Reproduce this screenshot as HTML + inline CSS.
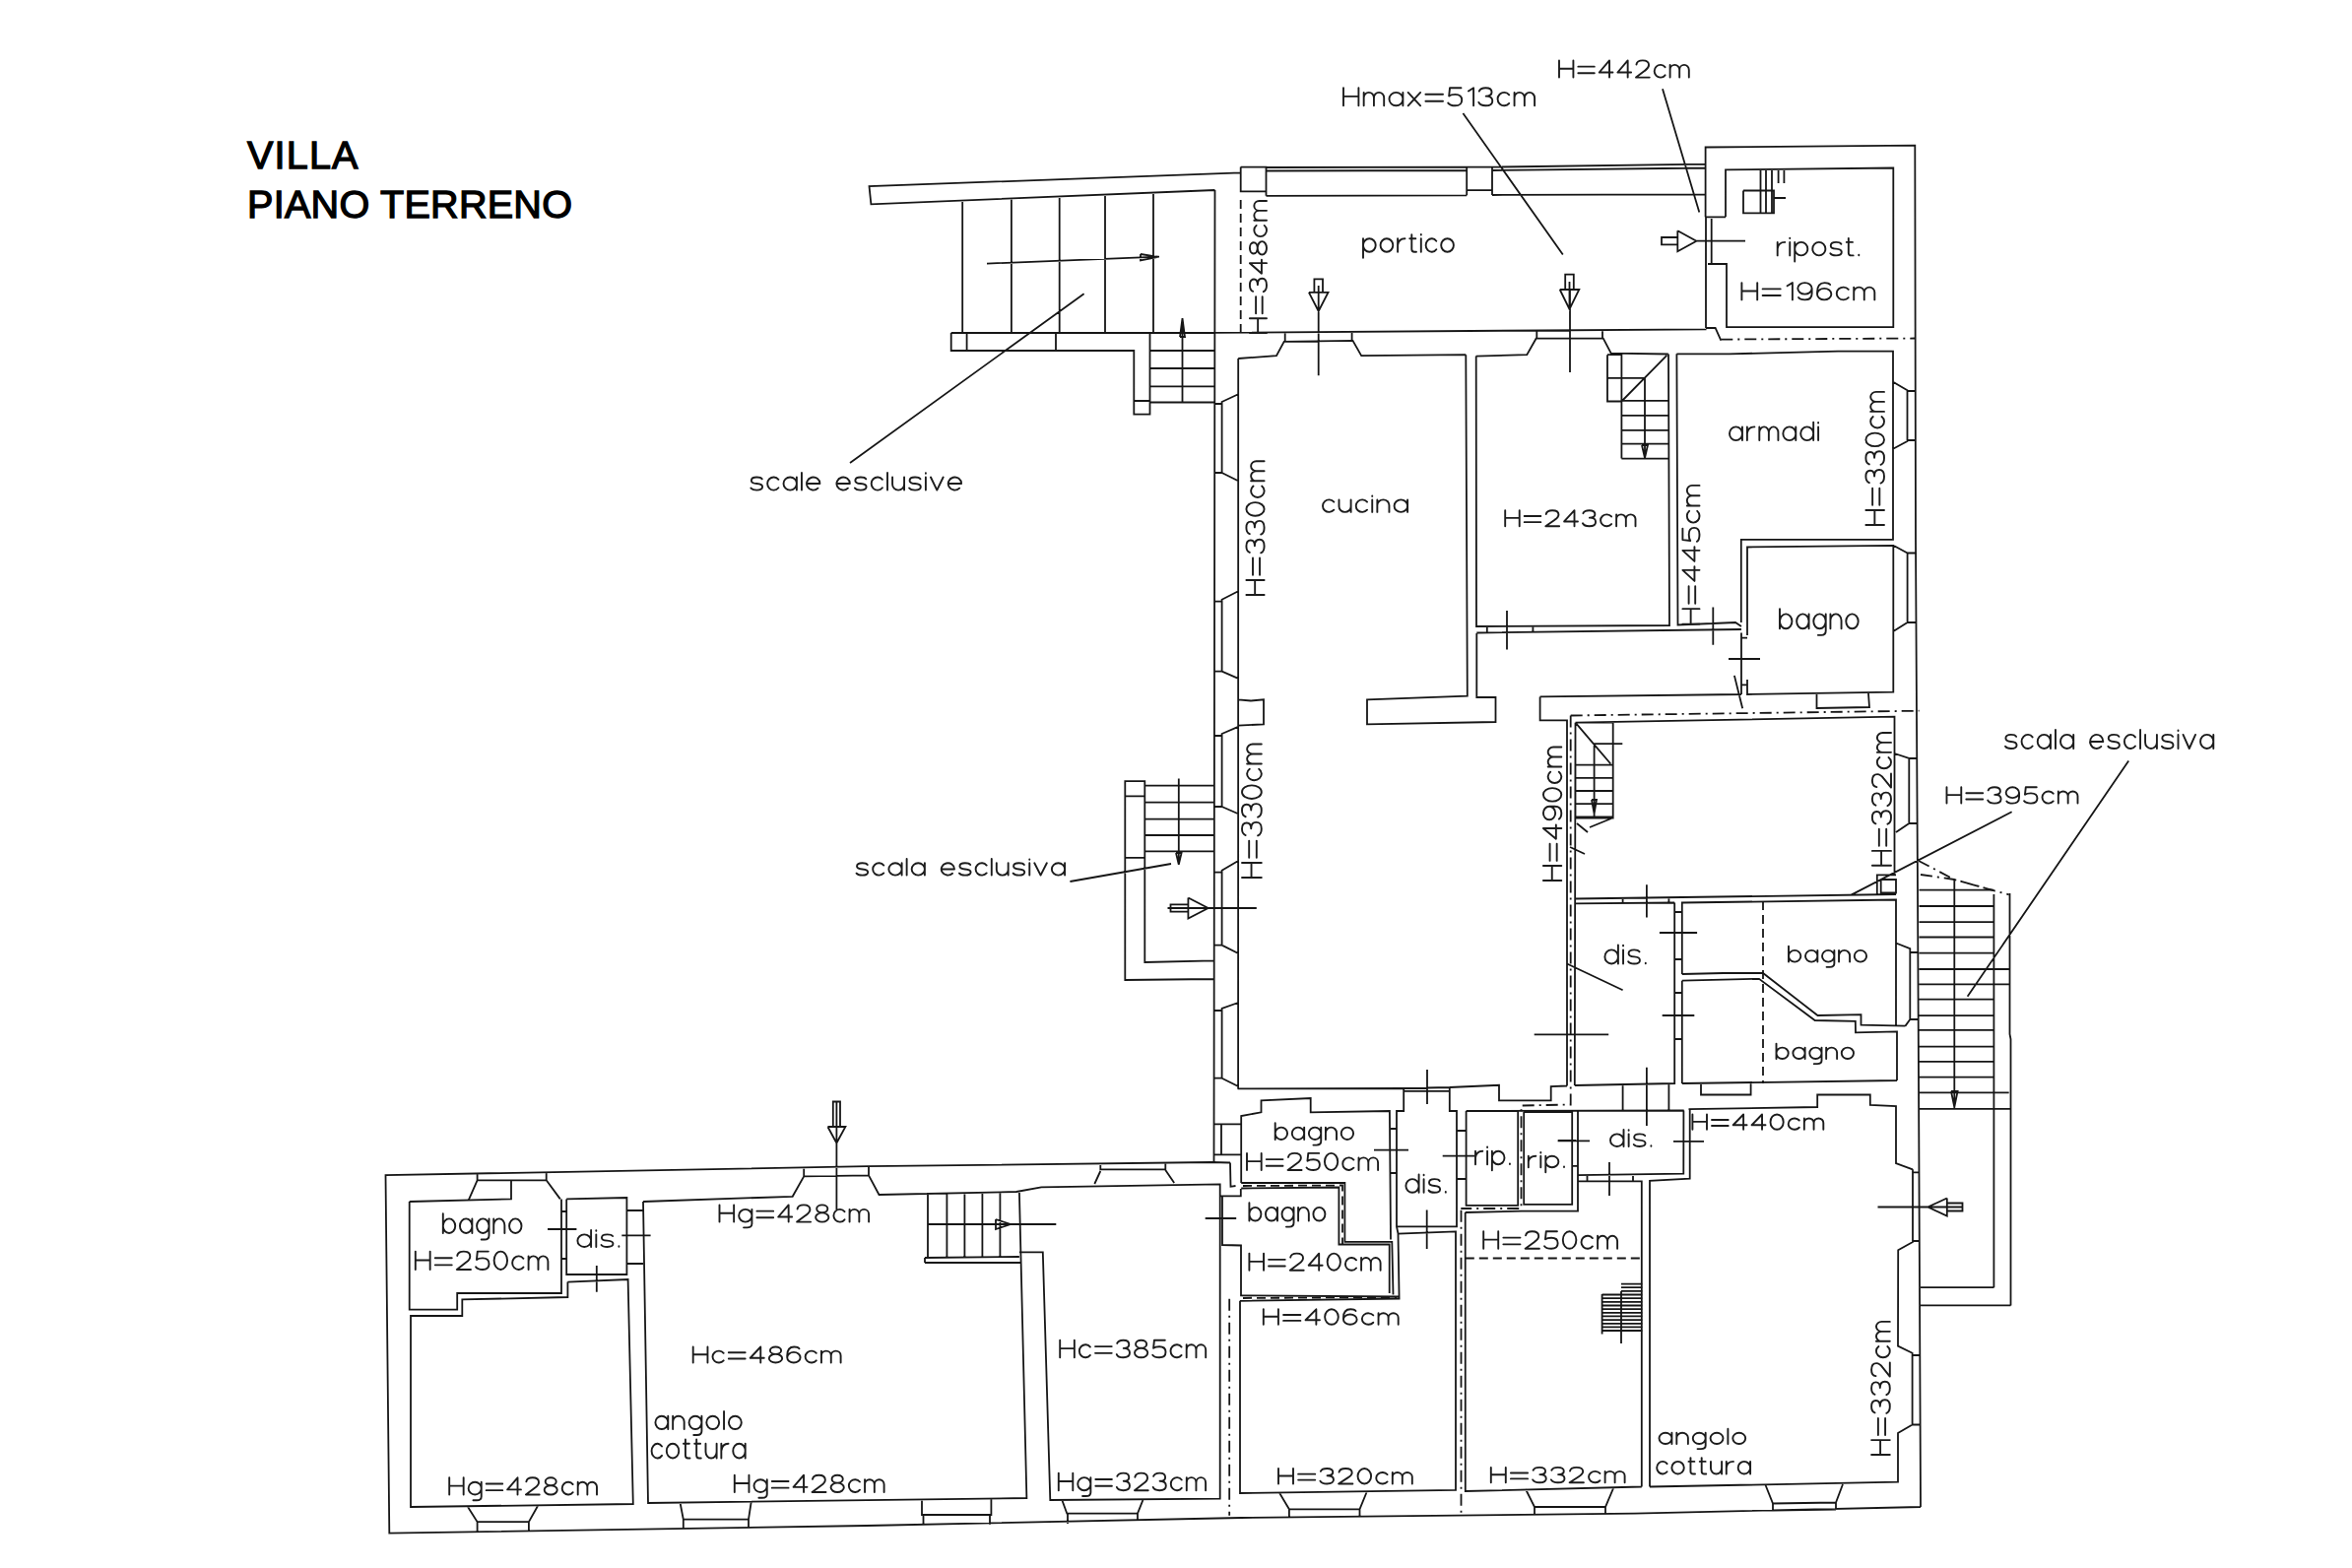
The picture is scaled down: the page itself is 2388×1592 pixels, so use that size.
<!DOCTYPE html><html><head><meta charset="utf-8"><style>html,body{margin:0;padding:0;background:#fff;}svg{display:block}</style></head><body>
<svg width="2388" height="1592" viewBox="0 0 2388 1592">
<rect width="2388" height="1592" fill="#fff"/>
<g fill="none" stroke="#161616" stroke-width="1.8" stroke-linejoin="miter" stroke-linecap="butt">
<path d="M1259.7 175.3 L882.5 189.2 L884.4 207.4 L1233.5 193 M977.2 203.6 L977.2 337.5 M1026.9 201.5 L1026.9 337.5 M1075.7 199.5 L1075.7 337.5 M1122 197.6 L1122 337.5 M1171 195.6 L1171 337.5 M1233.5 193 L1232.5 1180.7 M965.7 338 L1233 338 M965.7 338 L981.6 338 L981.6 356 L965.7 356 L965.7 338 M981.6 356 L1151.3 356 L1151.3 420.7 L1167.5 420.7 L1167.5 338 M1151.3 407 L1167.5 407 M1072 338 L1072 356 M1167.5 356 L1233 356 M1167.5 374 L1233 374 M1167.5 392.3 L1233 392.3 M1167.5 408.5 L1233 408.5 M1200.5 323 L1200.5 408.5 M1198 342 L1200.5 323 L1203 342 L1198 342 M1002 267.6 L1177 260.6 M1158 258 L1176 260.8 L1158 264.5 L1158 258 M1100.6 298.3 L863 470 M1259.7 169.6 L1285.5 169.6 L1285.5 194.4 L1259.7 194.4 L1259.7 169.6 M1285.5 170 L1489.2 169.6 M1285.5 173.5 L1489.2 173 M1285.5 198.8 L1489.2 198.3 M1285.5 169.6 L1285.5 198.8 M1489.2 169.6 L1515 169.6 L1515 193.1 L1489.2 193.1 L1489.2 169.6 M1489.2 169.6 L1489.2 198.3 M1515 169.6 L1515 198 M1515 169.6 L1731.6 166.7 M1515 173 L1731.6 170.5 M1515 198 L1731.6 197.3 M1233 337.8 L1732.5 334.3 M1257.2 364 L1296 361.1 L1303.7 346.8 L1373.5 345.8 L1382.2 361.1 L1488.3 360.2 M1304.7 337.5 L1304.7 346.5 M1372.6 337 L1372.6 346 M1498.7 361.6 L1550.3 360.2 L1559.6 343.7 L1627.8 343.7 L1635.7 358.7 L1693.8 359.5 M1560.3 335.5 L1560.3 343.7 M1627 335 L1627 343.7 M1338.7 296.8 L1338.7 381.2 M1594 294 L1594 378 M1334.4 296.8 L1334.4 283.4 L1343 283.4 L1343 296.8 M1328.9 296.8 L1348.5 296.8 L1338.7 316 L1328.9 296.8 M1338.7 290 L1338.7 316 M1589.2 294 L1589.2 278.6 L1597.8 278.6 L1597.8 294 M1583.7 294 L1603.3 294 L1593.5 314 L1583.7 294 M1593.5 286 L1593.5 314 M1485.4 115 L1586.8 258.5 M1688 90.2 L1725.3 215.5 M1731.6 220.3 L1731.6 149.5 L1944.3 147.6 L1945 548 L1947 903 L1948.3 1155.7 L1950 1530 M1752 220.3 L1752 172.4 L1922.3 170.5 L1922.3 332.2 L1753 332.2 L1753 268 L1734 268 M1731.6 220.3 L1752 220.3 M1732 220.3 L1732 333 M1737.7 222 L1737.7 268 M1732 333 L1741.6 333 L1747.3 345.6 M1770 193.5 L1801 193.5 L1801 216.4 L1770 216.4 L1770 193.5 M1787.5 171.5 L1787.5 215.5 M1793 171.5 L1793 215.5 M1799 171.5 L1799 215.5 M1805.6 171.5 L1805.6 186 M1811.4 171.5 L1811.4 186 M1801 201 L1813 201 M1703.3 241 L1687 241 L1687 248.4 L1703.3 248.4 M1703.3 234.2 L1703.3 255.2 L1722.4 244.7 L1703.3 234.2 M1722.4 244.7 L1772 244.7 M1257.2 364 L1257.1 1105.4 M1257.2 400.3 L1240.6 408 L1240.6 480 L1257.2 488.3 M1232.5 410 L1240.6 410 M1232.5 480 L1240.6 480 M1257.2 600.3 L1240.6 608.7 L1240.6 681.6 L1257.2 688.8 M1232.5 610.7 L1240.6 610.7 M1232.5 681.6 L1240.6 681.6 M1257.2 737.8 L1240.6 745 L1240.6 819 L1257.2 826.3 M1232.5 747 L1240.6 747 M1232.5 819 L1240.6 819 M1257.2 874 L1240.6 883.7 L1240.6 959.6 L1257.2 968 M1232.5 885.7 L1240.6 885.7 M1232.5 959.6 L1240.6 959.6 M1257.2 1018 L1240.6 1024 L1240.6 1094.7 L1257.2 1103 M1232.5 1026 L1240.6 1026 M1232.5 1094.7 L1240.6 1094.7 M1257.1 710.3 L1270 711.5 L1283 710.3 L1283 735.4 L1257.1 736.6 M1256.6 1105.4 L1425.2 1105 L1471.8 1104 L1522 1101.8 L1522 1117.4 L1574.7 1117.4 L1574.7 1103 L1591 1102.5 M1488.3 360.2 L1489.8 706.7 L1388 710.3 L1388 735.4 L1518.5 733 L1518.5 708 L1499.3 708 L1499.3 643 M1498.7 361.6 L1499 636 L1695 635 L1694 359.5 M1499.3 642.5 L1768 639 M1509.8 636 L1509.8 643 M1556.4 636 L1556.4 643 M1530 620 L1530 659.6 M1632 360.2 L1646.4 360.2 L1646.4 407.5 L1632 407.5 L1632 360.2 M1632 383.8 L1669.4 383.8 M1646.4 407.5 L1692.3 360.9 M1646.4 360.2 L1646.4 465.6 M1670 384 L1670 465.6 M1646.4 406.8 L1693.8 406.8 M1646.4 421.9 L1693.8 421.9 M1646.4 436.9 L1693.8 436.9 M1646.4 450.6 L1693.8 450.6 M1646.4 465.6 L1693.8 465.6 M1667 452 L1670 465 L1673 452 L1667 452 M1702.4 359.3 L1755.8 359.3 L1866 356.7 L1922 356.7 L1922 547.8 L1767.8 547.8 L1767.8 632 M1702.4 359.3 L1703.5 634.5 L1762 632 L1768 636 M1922 387.7 L1936.5 396.3 L1936.5 448 L1922 455.7 M1936.5 397 L1944.5 397 M1936.5 447 L1944.5 447 M1739.3 616.5 L1739.3 654.8 M1768 642.5 L1768 705 M1774 645 L1774 555.5 L1922.3 553.8 L1922.3 702.6 L1774 705 L1774 690 M1768 647.6 L1774 647.6 M1768 695.4 L1774 695.4 M1922.3 553.8 L1936.6 561.5 L1936.6 632 L1922.3 641 M1936.6 561.5 L1945 561.5 M1936.6 632 L1945 632 M1755 669 L1787 669 M1760.9 685.9 L1769.2 719.3 M1844.5 705 L1844.5 719 L1898 718 L1897 704 M1563.6 707.4 L1768 705 M1563.6 707.4 L1563.6 731.3 L1591 731.3 L1591 1102.5 M1599.5 733.7 L1923.5 727.7 L1923.5 889 M1599.5 733.7 L1598.8 1102 M1923.5 765 L1938.3 770 L1938.3 836 L1925 845 M1938.3 770 L1947 770 M1938.3 836 L1947 836 M1909.7 893 L1925 893 L1925 906.5 L1909.7 906.5 L1909.7 893 M1905.8 908.4 L1905.8 888.3 L1925 888.3 M1598.8 912.5 L1925 908 M1598.8 917.3 L1700.2 916.5 M1647.6 912.5 L1647.6 917.3 M1694.4 912.5 L1694.4 917.3 M1671.9 898.2 L1671.9 931.6 M1599.5 733.7 L1637.7 733.7 L1637.7 830.5 L1599.5 830.5 L1599.5 733.7 M1599.5 733.7 L1635.3 775.5 M1618.6 755 L1618.6 830.5 M1599.5 776.7 L1637.7 776.7 M1599.5 789.9 L1637.7 789.9 M1599.5 803 L1637.7 803 M1599.5 816.2 L1637.7 816.2 M1599.5 829.3 L1637.7 829.3 M1618.6 755.2 L1647.3 755.2 M1616 812 L1618.6 826 L1621 812 L1616 812 M1601 836 L1612 845 M1614 840 L1636 831 M1594 860 L1609 867 M2042.6 824.3 L1880 908.4 M1598.8 1102 L1700.2 1100 L1700.2 916.5 M1707.8 989 L1707.8 916.5 L1925 913.5 L1925 1040.7 M1707.8 995.7 L1707.8 1100 M1700.2 926 L1707.8 926 M1700.2 974 L1707.8 974 M1700.2 1008 L1707.8 1008 M1700.2 1055 L1707.8 1055 M1707.8 989 L1749.9 988 L1790 988 L1845.5 1031 L1889.5 1030.2 L1889.5 1040.7 L1934.5 1041.6 M1707.8 995.7 L1786 993.8 L1842.7 1036 L1883.8 1036.9 L1884 1048.3 L1926 1047.4 L1926 1097 M1707.8 1100 L1926 1097 M1727 1100 L1727 1111.5 L1777.6 1111.5 L1777.6 1099 M1925 957.5 L1939.3 963.2 L1939.3 1035 L1934.5 1041.6 M1939.3 967 L1947 967 M1939.3 1035 L1947 1035 M1591 978.5 L1647.6 1005.3 M1684.9 947 L1723.1 947 M1687.7 1031 L1720.3 1031 M1557.7 1050.3 L1633.2 1050.3 M1671.9 1083.7 L1671.9 1143 M1647.6 1102 L1647.6 1127 M1694.4 1101 L1694.4 1127 M1488.6 1128 L1709.7 1127.5 M1714.5 1126.2 L1845.2 1124 L1845.2 1111.5 L1898.8 1111.5 L1898.8 1122 L1925 1123 L1925 1181 L1942 1187.3 M1425.2 1105 L1425.2 1128 L1418 1128 L1418 1245.3 L1479 1245.3 L1479 1128 L1471.8 1128 L1471.8 1104 M1260.2 1201 L1260.2 1133 L1280.5 1129.3 L1280.5 1117.4 L1330.7 1115 L1330.7 1129.3 L1410.9 1128 L1412 1258.5 M1412 1146 L1418 1146 M1412 1191 L1418 1191 M1488.6 1128 L1541.2 1128 L1541.2 1223.8 L1488.6 1223.8 L1488.6 1128 M1547.2 1129 L1596.2 1129 L1596.2 1222.8 L1547.2 1222.8 L1547.2 1129 M1479 1148 L1488.6 1148 M1479 1197 L1488.2 1197 M1596 1183.8 L1602 1183.8 M1395 1167.6 L1430 1167.6 M1448.7 1228.6 L1448.7 1268 M1449 1086 L1449 1121 M1464.7 1173.6 L1497 1173.6 M1581.8 1158 L1600 1158 M1602 1127.5 L1602 1229.7 L1545 1229.7 L1487.7 1231 M1602 1193.2 L1709.3 1191.6 L1709.4 1127.5 M1715.7 1126.2 L1715.7 1196.7 L1675 1198.8 L1675 1509.5 M1602 1199.3 L1666.8 1199.3 L1666.8 1509.5 M1611.5 1193 L1611.5 1199.3 M1658 1192.5 L1658 1199.3 M1581.6 1158.3 L1614 1158.3 M1699 1158.9 L1730 1158.9 M1634 1180 L1634 1214 M1942 1187.3 L1942 1261 L1927.2 1269.3 L1927 1366.6 L1941.6 1373.8 L1941.6 1446.5 L1927 1455 L1927 1504.7 L1675 1509.5 M1942 1190.4 L1948.3 1190.4 M1942 1260 L1949 1260 M1941.6 1376 L1950 1376 M1941.6 1446.5 L1950 1446.5 M1792.6 1508 L1800 1526.5 L1864 1525.5 L1871 1507 M1800 1533.5 L1864 1532.5 M1800 1526.5 L1800 1534 M1864 1525.5 L1864 1533 M1976.8 1221.5 L1992.5 1221.5 L1992.5 1229.5 L1976.8 1229.5 M1976.8 1216.5 L1976.8 1234.5 L1957.4 1225.5 L1976.8 1216.5 M1906.5 1225.5 L1993 1225.5 M1950 1530 L1660 1536.6 L1260 1541 L880 1549 L395.3 1556.7 L391.5 1193.2 L880 1184.2 L1229.7 1180 L1249 1180.5 M1948.5 903.6 L2024.4 903.6 M1948.5 920 L2024.4 920 M1948.5 936.2 L2024.4 936.2 M1948.5 951.5 L2024.4 951.5 M1948.5 967.7 L2024.4 967.7 M1948.5 984 L2039.7 984 M1948.5 999.3 L2039.7 999.3 M1948.5 1014.6 L2024.4 1014.6 M1948.5 1031.1 L2024.4 1031.1 M1948.5 1045.9 L2024.4 1045.9 M1948.5 1062.7 L2024.4 1062.7 M1948.5 1077.9 L2024.4 1077.9 M1948.5 1093.6 L2024.4 1093.6 M1948.5 1109.4 L2039.7 1109.4 M1984.3 893 L1984.3 1125.8 M1981 1108 L1984.3 1124 L1987.6 1108 L1981 1108 M2024.4 908 L2024.4 1307.2 M2040.5 907 L2040.5 1050 L2041.5 1055 L2041.5 1325.4 M1949 1125.8 L2041.5 1125.8 M1950 1307.2 L2024.4 1307.2 M1950 1325.4 L2041.5 1325.4 M2161.2 772.6 L1997.6 1011.7 M484.6 1191.5 L484.6 1198.3 L554.7 1198.3 L554.7 1191 M484.6 1198.3 L475.7 1218.7 M554.7 1198.3 L568.8 1217.4 M415.7 1220 L519 1217.4 L519 1198.3 M570 1217.4 L570 1313 L464.2 1313 L464.2 1329.6 L415.7 1329.6 L415.7 1220 M576.4 1301.6 L576.4 1317 L469.3 1319.4 L469.3 1336 L417 1336 L417 1530 L642.8 1527 L637.6 1299 L576.4 1301.6 M575.2 1217.4 L636.4 1216 L636.4 1294 L575.2 1294 L575.2 1217.4 M570 1230 L575.2 1230 M570 1278 L575.2 1278 M636.4 1229 L653 1229 M636.4 1283 L653 1283 M653 1220 L658 1526 L1042.4 1521 L1034.9 1210 L1031.9 1210 L892.5 1213 L882 1193.4 L816.2 1194.4 L804.7 1214.8 L653 1220 M816.2 1186.8 L816.2 1194.4 M882 1185 L882 1193.4 M1031.9 1210 L1057.3 1205.4 L1238.7 1202.4 L1238.7 1521.7 L1066.3 1523 L1058.8 1271.4 L1034.9 1271.4 M942 1211 L942 1276 M961.4 1211 L961.4 1276 M979.4 1211 L979.4 1276 M997.4 1211 L997.4 1276 M1015.4 1211 L1015.4 1276 M942 1243 L1072.3 1243 M1011 1238 L1026 1243 L1011 1248 L1011 1238 M939 1277 L1034.9 1276 M939 1282 L1036 1282 M939 1277 L939 1282 M475 1530 L484.6 1545.2 L536.9 1545.2 L546 1529 M484.6 1545.2 L484.6 1555 M536.9 1545.2 L536.9 1554 M690.5 1525.5 L693.8 1542.6 L760 1542.6 L762.7 1524.8 M693.8 1542.6 L693.8 1552 M760 1542.6 L760 1551 M936 1521.7 L936 1538 L1006.4 1538 L1006.4 1521.7 M937.5 1538 L937.5 1549 M1005 1538 L1005 1548 M1078.3 1523 L1083.3 1536.7 L1155 1536.7 L1160.8 1522 M1084 1536.7 L1084 1547 M1155 1536.7 L1155 1545 M1117.3 1181.5 L1117.3 1187.4 L1183.3 1187.4 L1183.3 1180.8 M1111.3 1202 L1117.3 1189 M1192.2 1201 L1183.3 1188 M556 1248 L585.4 1248 M631.3 1254.4 L660.6 1254.4 M605.8 1285 L605.8 1311.8 M849.4 1160.5 L849.4 1228 M845.8 1144 L845.8 1118.5 L853 1118.5 L853 1144 M840.4 1144 L858.4 1144 L849.4 1160.5 L840.4 1144 M849.4 1118.5 L849.4 1160.5 M1223.7 1237 L1255.2 1237 M1232.2 1141.3 L1260.2 1141.3 M1232.2 1172.4 L1260.2 1172.4 M1240 1141.3 L1240 1172.4 M1249 1180.5 L1249.5 1204.8 L1254.5 1204 M1241 1214 L1241 1264 L1260 1264.5 L1260 1315.4 L1420.6 1316.5 M1238.7 1214.4 L1259.8 1214.4 L1259.8 1207 M1260.2 1201 L1365.4 1201 L1365.4 1260.9 L1413.3 1260.9 L1414.5 1314.6 M1260.2 1206.5 L1359.4 1205.5 L1359.4 1263.5 L1410.7 1263.5 L1410.7 1313 M1259 1320.8 L1420.6 1318.5 L1419.5 1252.5 L1478 1250.4 L1478 1512.8 L1259 1516 L1259 1320.8 M1299.2 1516 L1308.9 1532.3 L1380.5 1532.3 L1388 1514 M1308.9 1532.3 L1308.9 1541 M1380.5 1532.3 L1380.5 1540 M1419.5 1252.5 L1418 1245.3 M1487.7 1231 L1487.8 1514 L1666.8 1509.5 M1426 1107.8 L1471.5 1107.8 M1646 1303.6 L1667.8 1303.6 M1646 1307.2 L1667.8 1307.2 M1646 1310.9 L1667.8 1310.9 M1626.6 1314.5 L1667.8 1314.5 M1626.6 1318.2 L1667.8 1318.2 M1626.6 1321.8 L1667.8 1321.8 M1626.6 1325.5 L1667.8 1325.5 M1626.6 1329.1 L1667.8 1329.1 M1626.6 1332.8 L1667.8 1332.8 M1626.6 1336.4 L1667.8 1336.4 M1626.6 1340.1 L1667.8 1340.1 M1626.6 1343.8 L1667.8 1343.8 M1626.6 1347.4 L1667.8 1347.4 M1626.6 1351 L1667.8 1351 M1626.6 1314 L1626.6 1354.5 M1646 1311 L1646 1364 M1549 1512 L1558 1530 L1630 1530 L1638.5 1510 M1558 1530 L1558 1538 M1630 1530 L1630 1537.7 M1232.2 975.4 L1162.3 977 L1162.3 793.2 L1142.3 793.2 L1142.3 995 L1232 994 M1142.3 808.4 L1162.3 808.4 M1142.3 870.9 L1162.3 870.9 M1162.3 797.7 L1232.2 797.7 M1162.3 814.6 L1232.2 814.6 M1162.3 831.6 L1232.2 831.6 M1162.3 848 L1232.2 848 M1162.3 864.3 L1232.2 864.3 M1196.8 790.4 L1196.8 877.7 M1194 866 L1196.8 877.7 L1199.6 866 L1194 866 M1086.4 895 L1189 877 M1206.4 918.3 L1188.5 918.3 L1188.5 925.7 L1206.4 925.7 M1206.4 911.5 L1206.4 932.5 L1226.7 922 L1206.4 911.5 M1185.5 922 L1275.8 922"/>
</g>
<g fill="none" stroke="#161616" stroke-width="1.8" stroke-dasharray="9 5">
<path d="M1259.7 203 L1259.7 337 M1790 915 L1790 1100 M1262 1204 L1363 1203.5 L1363 1263 M1262 1318 L1418 1317 M1487.8 1277.5 L1667.8 1277.5"/>
</g>
<g fill="none" stroke="#161616" stroke-width="1.8" stroke-dasharray="12 5 2 5">
<path d="M1747.3 344.6 L1944.3 343.5 M1594.7 726.5 L1948.6 721.7 M1594.7 726.5 L1594.7 1121.5 L1544.5 1122.5 L1544.5 1227 L1483.3 1227 M1948 874 L1984.3 893 L2039.7 908.4 M1950 888 L1984.3 893 L2024 904 M1248.2 1318.7 L1248.2 1538.8 M1483.5 1228.7 L1483.5 1538.8"/>
</g>
<g fill="none" stroke="#1c1c1c" stroke-width="1.9" stroke-linecap="round" stroke-linejoin="round">
<path vector-effect="non-scaling-stroke" transform="translate(1583 78.6) scale(1.3715 1.2741)" d="M 0,-13.5 L 0,0 M 10.5,-13.5 L 10.5,0 M 0,-7 L 10.5,-7 M 14.1,-8.6 L 26.1,-8.6 M 14.1,-3.4 L 26.1,-3.4 M 37.2,0 L 37.2,-13.5 L 29.7,-4 L 39.7,-4 M 50.8,0 L 50.8,-13.5 L 43.3,-4 L 53.3,-4 M 57.2,-10.3 Q 57.7,-13.5 61.8,-13.5 Q 66.4,-13.5 66.4,-9.8 Q 66.4,-7.5 63.4,-5.3 L 56.9,0 L 66.9,0 M 78.45,-8.2 A 4.5,5 0 1 0 78.45,-1.8 M 82.1,-10 L 82.1,0 M 82.1,-6 A 3.5,4 0 0 1 89.1,-6 L 89.1,0 M 89.1,-6 A 3.5,4 0 0 1 96.1,-6 L 96.1,0"/>
<path vector-effect="non-scaling-stroke" transform="translate(1364 107.3) scale(1.4660 1.3407)" d="M 0,-13.5 L 0,0 M 10.5,-13.5 L 10.5,0 M 0,-7 L 10.5,-7 M 14.1,-10 L 14.1,0 M 14.1,-6 A 3.5,4 0 0 1 21.1,-6 L 21.1,0 M 21.1,-6 A 3.5,4 0 0 1 28.1,-6 L 28.1,0 M 31.7,-5 A 4.75,5 0 1 0 41.2,-5 A 4.75,5 0 1 0 31.7,-5 M 41.2,-10 L 41.2,0 M 44.8,-10 L 53.3,0 M 53.3,-10 L 44.8,0 M 56.9,-8.6 L 68.9,-8.6 M 56.9,-3.4 L 68.9,-3.4 M 81.5,-13.5 L 73.7,-13.5 L 73.1,-7.3 Q 74.5,-8.5 77.4,-8.5 Q 82,-8.5 82,-4.25 Q 82,0 77.4,0 Q 73.8,0 72.5,-2 M 86.6,-11 L 90.1,-13.5 L 90.1,0 M 94,-11 Q 94.9,-13.5 98.5,-13.5 Q 102.7,-13.5 102.7,-10.2 Q 102.7,-7.2 98.7,-7.2 Q 103.2,-7.2 103.2,-3.6 Q 103.2,0 98.5,0 Q 94.7,0 93.7,-2.5 M 114.75,-8.2 A 4.5,5 0 1 0 114.75,-1.8 M 118.4,-10 L 118.4,0 M 118.4,-6 A 3.5,4 0 0 1 125.4,-6 L 125.4,0 M 125.4,-6 A 3.5,4 0 0 1 132.4,-6 L 132.4,0"/>
<path vector-effect="non-scaling-stroke" transform="translate(1384 255.7) scale(1.3397 1.3400)" d="M 0,-5 A 4.75,5 0 1 0 9.5,-5 A 4.75,5 0 1 0 0,-5 M 0,-10 L 0,4.5 M 13.1,-5 A 4.75,5 0 1 0 22.6,-5 A 4.75,5 0 1 0 13.1,-5 M 26.2,-10 L 26.2,0 M 26.2,-5 Q 26.8,-10 31.7,-10 M 36.8,-13 L 36.8,-2 Q 36.8,0 38.8,0 L 40.3,0 M 35.3,-10 L 39.8,-10 M 43.9,-10 L 43.9,0 M 43.9,-13.2 L 43.9,-12.8 M 55.45,-8.2 A 4.5,5 0 1 0 55.45,-1.8 M 59.1,-5 A 4.75,5 0 1 0 68.6,-5 A 4.75,5 0 1 0 59.1,-5"/>
<path vector-effect="non-scaling-stroke" transform="translate(1804.7 259.4) scale(1.3791 1.3500)" d="M 0,-10 L 0,0 M 0,-5 Q 0.6,-10 5.5,-10 M 9.1,-10 L 9.1,0 M 9.1,-13.2 L 9.1,-12.8 M 12.7,-5 A 4.75,5 0 1 0 22.2,-5 A 4.75,5 0 1 0 12.7,-5 M 12.7,-10 L 12.7,4.5 M 25.8,-5 A 4.75,5 0 1 0 35.3,-5 A 4.75,5 0 1 0 25.8,-5 M 46.9,-8.6 Q 46.1,-10 43.1,-10 Q 39.2,-10 39.2,-7.4 Q 39.2,-5.3 43.1,-5 Q 47.2,-4.7 47.2,-2.5 Q 47.2,0 43.1,0 Q 39.9,0 38.9,-1.6 M 52.3,-13 L 52.3,-2 Q 52.3,0 54.3,0 L 55.8,0 M 50.8,-10 L 55.3,-10 M 59.9,-0.6 L 59.9,-0.1"/>
<path vector-effect="non-scaling-stroke" transform="translate(1768.4 304.4) scale(1.5056 1.2815)" d="M 0,-13.5 L 0,0 M 10.5,-13.5 L 10.5,0 M 0,-7 L 10.5,-7 M 14.1,-8.6 L 26.1,-8.6 M 14.1,-3.4 L 26.1,-3.4 M 30.7,-11 L 34.2,-13.5 L 34.2,0 M 47.3,-9 A 4.75,4.5 0 1 0 37.8,-9 A 4.75,4.5 0 1 0 47.3,-9 L 47.3,-5 Q 47.3,0 42.55,0 Q 39.3,0 38.3,-1.8 M 59.6,-12 Q 58.7,-13.5 55.9,-13.5 Q 50.9,-13.5 50.9,-6 L 50.9,-4.5 A 4.75,4.5 0 1 0 60.4,-4.5 A 4.75,4.5 0 1 0 50.9,-4.5 M 71.95,-8.2 A 4.5,5 0 1 0 71.95,-1.8 M 75.6,-10 L 75.6,0 M 75.6,-6 A 3.5,4 0 0 1 82.6,-6 L 82.6,0 M 82.6,-6 A 3.5,4 0 0 1 89.6,-6 L 89.6,0"/>
<path vector-effect="non-scaling-stroke" transform="translate(762.4 497.6) scale(1.4087 1.3100)" d="M 8,-8.6 Q 7.2,-10 4.2,-10 Q 0.3,-10 0.3,-7.4 Q 0.3,-5.3 4.2,-5 Q 8.3,-4.7 8.3,-2.5 Q 8.3,0 4.2,0 Q 1,0 0,-1.6 M 19.85,-8.2 A 4.5,5 0 1 0 19.85,-1.8 M 23.5,-5 A 4.75,5 0 1 0 33,-5 A 4.75,5 0 1 0 23.5,-5 M 33,-10 L 33,0 M 36.6,-13.5 L 36.6,0 M 40.2,-5 L 49.7,-5 A 4.75,5 0 1 0 48.3,-1.46 M 61.8,-5 L 71.3,-5 A 4.75,5 0 1 0 69.9,-1.46 M 82.9,-8.6 Q 82.1,-10 79.1,-10 Q 75.2,-10 75.2,-7.4 Q 75.2,-5.3 79.1,-5 Q 83.2,-4.7 83.2,-2.5 Q 83.2,0 79.1,0 Q 75.9,0 74.9,-1.6 M 94.75,-8.2 A 4.5,5 0 1 0 94.75,-1.8 M 98.4,-13.5 L 98.4,0 M 102,-10 L 102,-4.5 A 4.25,4.5 0 0 0 110.5,-4.5 M 110.5,-10 L 110.5,0 M 122.1,-8.6 Q 121.3,-10 118.3,-10 Q 114.4,-10 114.4,-7.4 Q 114.4,-5.3 118.3,-5 Q 122.4,-4.7 122.4,-2.5 Q 122.4,0 118.3,0 Q 115.1,0 114.1,-1.6 M 126,-10 L 126,0 M 126,-13.2 L 126,-12.8 M 129.6,-10 L 134.1,0 L 138.6,-10 M 142.2,-5 L 151.7,-5 A 4.75,5 0 1 0 150.3,-1.46"/>
<path vector-effect="non-scaling-stroke" transform="translate(1343 519.9) scale(1.4231 1.2500)" d="M 7.95,-8.2 A 4.5,5 0 1 0 7.95,-1.8 M 11.6,-10 L 11.6,-4.5 A 4.25,4.5 0 0 0 20.1,-4.5 M 20.1,-10 L 20.1,0 M 31.65,-8.2 A 4.5,5 0 1 0 31.65,-1.8 M 35.3,-10 L 35.3,0 M 35.3,-13.2 L 35.3,-12.8 M 38.9,-10 L 38.9,0 M 38.9,-5.5 A 4.25,4.5 0 0 1 47.4,-5.5 L 47.4,0 M 51,-5 A 4.75,5 0 1 0 60.5,-5 A 4.75,5 0 1 0 51,-5 M 60.5,-10 L 60.5,0"/>
<path vector-effect="non-scaling-stroke" transform="translate(1528.2 534.2) scale(1.3839 1.1852)" d="M 0,-13.5 L 0,0 M 10.5,-13.5 L 10.5,0 M 0,-7 L 10.5,-7 M 14.1,-8.6 L 26.1,-8.6 M 14.1,-3.4 L 26.1,-3.4 M 30,-10.3 Q 30.5,-13.5 34.6,-13.5 Q 39.2,-13.5 39.2,-9.8 Q 39.2,-7.5 36.2,-5.3 L 29.7,0 L 39.7,0 M 50.8,0 L 50.8,-13.5 L 43.3,-4 L 53.3,-4 M 57.2,-11 Q 58.1,-13.5 61.7,-13.5 Q 65.9,-13.5 65.9,-10.2 Q 65.9,-7.2 61.9,-7.2 Q 66.4,-7.2 66.4,-3.6 Q 66.4,0 61.7,0 Q 57.9,0 56.9,-2.5 M 77.95,-8.2 A 4.5,5 0 1 0 77.95,-1.8 M 81.6,-10 L 81.6,0 M 81.6,-6 A 3.5,4 0 0 1 88.6,-6 L 88.6,0 M 88.6,-6 A 3.5,4 0 0 1 95.6,-6 L 95.6,0"/>
<path vector-effect="non-scaling-stroke" transform="translate(1756 447.1) scale(1.3652 1.3700)" d="M 0,-5 A 4.75,5 0 1 0 9.5,-5 A 4.75,5 0 1 0 0,-5 M 9.5,-10 L 9.5,0 M 13.1,-10 L 13.1,0 M 13.1,-5 Q 13.7,-10 18.6,-10 M 22.2,-10 L 22.2,0 M 22.2,-6 A 3.5,4 0 0 1 29.2,-6 L 29.2,0 M 29.2,-6 A 3.5,4 0 0 1 36.2,-6 L 36.2,0 M 39.8,-5 A 4.75,5 0 1 0 49.3,-5 A 4.75,5 0 1 0 39.8,-5 M 49.3,-10 L 49.3,0 M 52.9,-5 A 4.75,5 0 1 0 62.4,-5 A 4.75,5 0 1 0 52.9,-5 M 62.4,-13.5 L 62.4,0 M 66,-10 L 66,0 M 66,-13.2 L 66,-12.8"/>
<path vector-effect="non-scaling-stroke" transform="translate(1807 638.2) scale(1.3087 1.4800)" d="M 0,-5 A 4.75,5 0 1 0 9.5,-5 A 4.75,5 0 1 0 0,-5 M 0,-13.5 L 0,0 M 13.1,-5 A 4.75,5 0 1 0 22.6,-5 A 4.75,5 0 1 0 13.1,-5 M 22.6,-10 L 22.6,0 M 26.2,-5 A 4.75,5 0 1 0 35.7,-5 A 4.75,5 0 1 0 26.2,-5 M 35.7,-10 L 35.7,1.5 Q 35.7,4.5 32.2,4.5 L 29.7,4.5 M 39.3,-10 L 39.3,0 M 39.3,-5.5 A 4.25,4.5 0 0 1 47.8,-5.5 L 47.8,0 M 51.4,-5 A 4.75,5 0 1 0 60.9,-5 A 4.75,5 0 1 0 51.4,-5"/>
<path vector-effect="non-scaling-stroke" transform="translate(869.6 888.6) scale(1.3942 1.2300)" d="M 8,-8.6 Q 7.2,-10 4.2,-10 Q 0.3,-10 0.3,-7.4 Q 0.3,-5.3 4.2,-5 Q 8.3,-4.7 8.3,-2.5 Q 8.3,0 4.2,0 Q 1,0 0,-1.6 M 19.85,-8.2 A 4.5,5 0 1 0 19.85,-1.8 M 23.5,-5 A 4.75,5 0 1 0 33,-5 A 4.75,5 0 1 0 23.5,-5 M 33,-10 L 33,0 M 36.6,-13.5 L 36.6,0 M 40.2,-5 A 4.75,5 0 1 0 49.7,-5 A 4.75,5 0 1 0 40.2,-5 M 49.7,-10 L 49.7,0 M 61.8,-5 L 71.3,-5 A 4.75,5 0 1 0 69.9,-1.46 M 82.9,-8.6 Q 82.1,-10 79.1,-10 Q 75.2,-10 75.2,-7.4 Q 75.2,-5.3 79.1,-5 Q 83.2,-4.7 83.2,-2.5 Q 83.2,0 79.1,0 Q 75.9,0 74.9,-1.6 M 94.75,-8.2 A 4.5,5 0 1 0 94.75,-1.8 M 98.4,-13.5 L 98.4,0 M 102,-10 L 102,-4.5 A 4.25,4.5 0 0 0 110.5,-4.5 M 110.5,-10 L 110.5,0 M 122.1,-8.6 Q 121.3,-10 118.3,-10 Q 114.4,-10 114.4,-7.4 Q 114.4,-5.3 118.3,-5 Q 122.4,-4.7 122.4,-2.5 Q 122.4,0 118.3,0 Q 115.1,0 114.1,-1.6 M 126,-10 L 126,0 M 126,-13.2 L 126,-12.8 M 129.6,-10 L 134.1,0 L 138.6,-10 M 142.2,-5 A 4.75,5 0 1 0 151.7,-5 A 4.75,5 0 1 0 142.2,-5 M 151.7,-10 L 151.7,0"/>
<path vector-effect="non-scaling-stroke" transform="translate(2036 760) scale(1.3929 1.4100)" d="M 8,-8.6 Q 7.2,-10 4.2,-10 Q 0.3,-10 0.3,-7.4 Q 0.3,-5.3 4.2,-5 Q 8.3,-4.7 8.3,-2.5 Q 8.3,0 4.2,0 Q 1,0 0,-1.6 M 19.85,-8.2 A 4.5,5 0 1 0 19.85,-1.8 M 23.5,-5 A 4.75,5 0 1 0 33,-5 A 4.75,5 0 1 0 23.5,-5 M 33,-10 L 33,0 M 36.6,-13.5 L 36.6,0 M 40.2,-5 A 4.75,5 0 1 0 49.7,-5 A 4.75,5 0 1 0 40.2,-5 M 49.7,-10 L 49.7,0 M 61.8,-5 L 71.3,-5 A 4.75,5 0 1 0 69.9,-1.46 M 82.9,-8.6 Q 82.1,-10 79.1,-10 Q 75.2,-10 75.2,-7.4 Q 75.2,-5.3 79.1,-5 Q 83.2,-4.7 83.2,-2.5 Q 83.2,0 79.1,0 Q 75.9,0 74.9,-1.6 M 94.75,-8.2 A 4.5,5 0 1 0 94.75,-1.8 M 98.4,-13.5 L 98.4,0 M 102,-10 L 102,-4.5 A 4.25,4.5 0 0 0 110.5,-4.5 M 110.5,-10 L 110.5,0 M 122.1,-8.6 Q 121.3,-10 118.3,-10 Q 114.4,-10 114.4,-7.4 Q 114.4,-5.3 118.3,-5 Q 122.4,-4.7 122.4,-2.5 Q 122.4,0 118.3,0 Q 115.1,0 114.1,-1.6 M 126,-10 L 126,0 M 126,-13.2 L 126,-12.8 M 129.6,-10 L 134.1,0 L 138.6,-10 M 142.2,-5 A 4.75,5 0 1 0 151.7,-5 A 4.75,5 0 1 0 142.2,-5 M 151.7,-10 L 151.7,0"/>
<path vector-effect="non-scaling-stroke" transform="translate(1976.5 815.6) scale(1.4059 1.2074)" d="M 0,-13.5 L 0,0 M 10.5,-13.5 L 10.5,0 M 0,-7 L 10.5,-7 M 14.1,-8.6 L 26.1,-8.6 M 14.1,-3.4 L 26.1,-3.4 M 30,-11 Q 30.9,-13.5 34.5,-13.5 Q 38.7,-13.5 38.7,-10.2 Q 38.7,-7.2 34.7,-7.2 Q 39.2,-7.2 39.2,-3.6 Q 39.2,0 34.5,0 Q 30.7,0 29.7,-2.5 M 52.3,-9 A 4.75,4.5 0 1 0 42.8,-9 A 4.75,4.5 0 1 0 52.3,-9 L 52.3,-5 Q 52.3,0 47.55,0 Q 44.3,0 43.3,-1.8 M 64.9,-13.5 L 57.1,-13.5 L 56.5,-7.3 Q 57.9,-8.5 60.8,-8.5 Q 65.4,-8.5 65.4,-4.25 Q 65.4,0 60.8,0 Q 57.2,0 55.9,-2 M 76.95,-8.2 A 4.5,5 0 1 0 76.95,-1.8 M 80.6,-10 L 80.6,0 M 80.6,-6 A 3.5,4 0 0 1 87.6,-6 L 87.6,0 M 87.6,-6 A 3.5,4 0 0 1 94.6,-6 L 94.6,0"/>
<path vector-effect="non-scaling-stroke" transform="translate(1629.4 978.5) scale(1.4223 1.4148)" d="M 0,-5 A 4.75,5 0 1 0 9.5,-5 A 4.75,5 0 1 0 0,-5 M 9.5,-13.5 L 9.5,0 M 13.1,-10 L 13.1,0 M 13.1,-13.2 L 13.1,-12.8 M 24.7,-8.6 Q 23.9,-10 20.9,-10 Q 17,-10 17,-7.4 Q 17,-5.3 20.9,-5 Q 25,-4.7 25,-2.5 Q 25,0 20.9,0 Q 17.7,0 16.7,-1.6 M 29.1,-0.6 L 29.1,-0.1"/>
<path vector-effect="non-scaling-stroke" transform="translate(1816 976.6) scale(1.2989 1.1700)" d="M 0,-5 A 4.75,5 0 1 0 9.5,-5 A 4.75,5 0 1 0 0,-5 M 0,-13.5 L 0,0 M 13.1,-5 A 4.75,5 0 1 0 22.6,-5 A 4.75,5 0 1 0 13.1,-5 M 22.6,-10 L 22.6,0 M 26.2,-5 A 4.75,5 0 1 0 35.7,-5 A 4.75,5 0 1 0 26.2,-5 M 35.7,-10 L 35.7,1.5 Q 35.7,4.5 32.2,4.5 L 29.7,4.5 M 39.3,-10 L 39.3,0 M 39.3,-5.5 A 4.25,4.5 0 0 1 47.8,-5.5 L 47.8,0 M 51.4,-5 A 4.75,5 0 1 0 60.9,-5 A 4.75,5 0 1 0 51.4,-5"/>
<path vector-effect="non-scaling-stroke" transform="translate(1803.5 1075) scale(1.2890 1.1400)" d="M 0,-5 A 4.75,5 0 1 0 9.5,-5 A 4.75,5 0 1 0 0,-5 M 0,-13.5 L 0,0 M 13.1,-5 A 4.75,5 0 1 0 22.6,-5 A 4.75,5 0 1 0 13.1,-5 M 22.6,-10 L 22.6,0 M 26.2,-5 A 4.75,5 0 1 0 35.7,-5 A 4.75,5 0 1 0 26.2,-5 M 35.7,-10 L 35.7,1.5 Q 35.7,4.5 32.2,4.5 L 29.7,4.5 M 39.3,-10 L 39.3,0 M 39.3,-5.5 A 4.25,4.5 0 0 1 47.8,-5.5 L 47.8,0 M 51.4,-5 A 4.75,5 0 1 0 60.9,-5 A 4.75,5 0 1 0 51.4,-5"/>
<path vector-effect="non-scaling-stroke" transform="translate(1718.4 1146.8) scale(1.3902 1.1333)" d="M 0,-13.5 L 0,0 M 10.5,-13.5 L 10.5,0 M 0,-7 L 10.5,-7 M 14.1,-8.6 L 26.1,-8.6 M 14.1,-3.4 L 26.1,-3.4 M 37.2,0 L 37.2,-13.5 L 29.7,-4 L 39.7,-4 M 50.8,0 L 50.8,-13.5 L 43.3,-4 L 53.3,-4 M 56.9,-6.75 A 4.75,6.75 0 1 0 66.4,-6.75 A 4.75,6.75 0 1 0 56.9,-6.75 M 77.95,-8.2 A 4.5,5 0 1 0 77.95,-1.8 M 81.6,-10 L 81.6,0 M 81.6,-6 A 3.5,4 0 0 1 88.6,-6 L 88.6,0 M 88.6,-6 A 3.5,4 0 0 1 95.6,-6 L 95.6,0"/>
<path vector-effect="non-scaling-stroke" transform="translate(1635 1164) scale(1.4223 1.2667)" d="M 0,-5 A 4.75,5 0 1 0 9.5,-5 A 4.75,5 0 1 0 0,-5 M 9.5,-13.5 L 9.5,0 M 13.1,-10 L 13.1,0 M 13.1,-13.2 L 13.1,-12.8 M 24.7,-8.6 Q 23.9,-10 20.9,-10 Q 17,-10 17,-7.4 Q 17,-5.3 20.9,-5 Q 25,-4.7 25,-2.5 Q 25,0 20.9,0 Q 17.7,0 16.7,-1.6 M 29.1,-0.6 L 29.1,-0.1"/>
<path vector-effect="non-scaling-stroke" transform="translate(1294.7 1157) scale(1.3038 1.2400)" d="M 0,-5 A 4.75,5 0 1 0 9.5,-5 A 4.75,5 0 1 0 0,-5 M 0,-13.5 L 0,0 M 13.1,-5 A 4.75,5 0 1 0 22.6,-5 A 4.75,5 0 1 0 13.1,-5 M 22.6,-10 L 22.6,0 M 26.2,-5 A 4.75,5 0 1 0 35.7,-5 A 4.75,5 0 1 0 26.2,-5 M 35.7,-10 L 35.7,1.5 Q 35.7,4.5 32.2,4.5 L 29.7,4.5 M 39.3,-10 L 39.3,0 M 39.3,-5.5 A 4.25,4.5 0 0 1 47.8,-5.5 L 47.8,0 M 51.4,-5 A 4.75,5 0 1 0 60.9,-5 A 4.75,5 0 1 0 51.4,-5"/>
<path vector-effect="non-scaling-stroke" transform="translate(1266 1188) scale(1.3996 1.2667)" d="M 0,-13.5 L 0,0 M 10.5,-13.5 L 10.5,0 M 0,-7 L 10.5,-7 M 14.1,-8.6 L 26.1,-8.6 M 14.1,-3.4 L 26.1,-3.4 M 30,-10.3 Q 30.5,-13.5 34.6,-13.5 Q 39.2,-13.5 39.2,-9.8 Q 39.2,-7.5 36.2,-5.3 L 29.7,0 L 39.7,0 M 52.3,-13.5 L 44.5,-13.5 L 43.9,-7.3 Q 45.3,-8.5 48.2,-8.5 Q 52.8,-8.5 52.8,-4.25 Q 52.8,0 48.2,0 Q 44.6,0 43.3,-2 M 56.4,-6.75 A 4.75,6.75 0 1 0 65.9,-6.75 A 4.75,6.75 0 1 0 56.4,-6.75 M 77.45,-8.2 A 4.5,5 0 1 0 77.45,-1.8 M 81.1,-10 L 81.1,0 M 81.1,-6 A 3.5,4 0 0 1 88.1,-6 L 88.1,0 M 88.1,-6 A 3.5,4 0 0 1 95.1,-6 L 95.1,0"/>
<path vector-effect="non-scaling-stroke" transform="translate(1427.4 1210.8) scale(1.3885 1.3630)" d="M 0,-5 A 4.75,5 0 1 0 9.5,-5 A 4.75,5 0 1 0 0,-5 M 9.5,-13.5 L 9.5,0 M 13.1,-10 L 13.1,0 M 13.1,-13.2 L 13.1,-12.8 M 24.7,-8.6 Q 23.9,-10 20.9,-10 Q 17,-10 17,-7.4 Q 17,-5.3 20.9,-5 Q 25,-4.7 25,-2.5 Q 25,0 20.9,0 Q 17.7,0 16.7,-1.6 M 29.1,-0.6 L 29.1,-0.1"/>
<path vector-effect="non-scaling-stroke" transform="translate(1498 1182.2) scale(1.3284 1.3400)" d="M 0,-10 L 0,0 M 0,-5 Q 0.6,-10 5.5,-10 M 9.1,-10 L 9.1,0 M 9.1,-13.2 L 9.1,-12.8 M 12.7,-5 A 4.75,5 0 1 0 22.2,-5 A 4.75,5 0 1 0 12.7,-5 M 12.7,-10 L 12.7,4.5 M 26.3,-0.6 L 26.3,-0.1"/>
<path vector-effect="non-scaling-stroke" transform="translate(1551.8 1185.2) scale(1.3769 1.1500)" d="M 0,-10 L 0,0 M 0,-5 Q 0.6,-10 5.5,-10 M 9.1,-10 L 9.1,0 M 9.1,-13.2 L 9.1,-12.8 M 12.7,-5 A 4.75,5 0 1 0 22.2,-5 A 4.75,5 0 1 0 12.7,-5 M 12.7,-10 L 12.7,4.5 M 26.3,-0.6 L 26.3,-0.1"/>
<path vector-effect="non-scaling-stroke" transform="translate(1268.4 1239.5) scale(1.2644 1.3600)" d="M 0,-5 A 4.75,5 0 1 0 9.5,-5 A 4.75,5 0 1 0 0,-5 M 0,-13.5 L 0,0 M 13.1,-5 A 4.75,5 0 1 0 22.6,-5 A 4.75,5 0 1 0 13.1,-5 M 22.6,-10 L 22.6,0 M 26.2,-5 A 4.75,5 0 1 0 35.7,-5 A 4.75,5 0 1 0 26.2,-5 M 35.7,-10 L 35.7,1.5 Q 35.7,4.5 32.2,4.5 L 29.7,4.5 M 39.3,-10 L 39.3,0 M 39.3,-5.5 A 4.25,4.5 0 0 1 47.8,-5.5 L 47.8,0 M 51.4,-5 A 4.75,5 0 1 0 60.9,-5 A 4.75,5 0 1 0 51.4,-5"/>
<path vector-effect="non-scaling-stroke" transform="translate(1268.4 1289.8) scale(1.3933 1.2741)" d="M 0,-13.5 L 0,0 M 10.5,-13.5 L 10.5,0 M 0,-7 L 10.5,-7 M 14.1,-8.6 L 26.1,-8.6 M 14.1,-3.4 L 26.1,-3.4 M 30,-10.3 Q 30.5,-13.5 34.6,-13.5 Q 39.2,-13.5 39.2,-9.8 Q 39.2,-7.5 36.2,-5.3 L 29.7,0 L 39.7,0 M 50.8,0 L 50.8,-13.5 L 43.3,-4 L 53.3,-4 M 56.9,-6.75 A 4.75,6.75 0 1 0 66.4,-6.75 A 4.75,6.75 0 1 0 56.9,-6.75 M 77.95,-8.2 A 4.5,5 0 1 0 77.95,-1.8 M 81.6,-10 L 81.6,0 M 81.6,-6 A 3.5,4 0 0 1 88.6,-6 L 88.6,0 M 88.6,-6 A 3.5,4 0 0 1 95.6,-6 L 95.6,0"/>
<path vector-effect="non-scaling-stroke" transform="translate(1506.2 1267.8) scale(1.4290 1.3037)" d="M 0,-13.5 L 0,0 M 10.5,-13.5 L 10.5,0 M 0,-7 L 10.5,-7 M 14.1,-8.6 L 26.1,-8.6 M 14.1,-3.4 L 26.1,-3.4 M 30,-10.3 Q 30.5,-13.5 34.6,-13.5 Q 39.2,-13.5 39.2,-9.8 Q 39.2,-7.5 36.2,-5.3 L 29.7,0 L 39.7,0 M 52.3,-13.5 L 44.5,-13.5 L 43.9,-7.3 Q 45.3,-8.5 48.2,-8.5 Q 52.8,-8.5 52.8,-4.25 Q 52.8,0 48.2,0 Q 44.6,0 43.3,-2 M 56.4,-6.75 A 4.75,6.75 0 1 0 65.9,-6.75 A 4.75,6.75 0 1 0 56.4,-6.75 M 77.45,-8.2 A 4.5,5 0 1 0 77.45,-1.8 M 81.1,-10 L 81.1,0 M 81.1,-6 A 3.5,4 0 0 1 88.1,-6 L 88.1,0 M 88.1,-6 A 3.5,4 0 0 1 95.1,-6 L 95.1,0"/>
<path vector-effect="non-scaling-stroke" transform="translate(1282.8 1344.8) scale(1.4395 1.1481)" d="M 0,-13.5 L 0,0 M 10.5,-13.5 L 10.5,0 M 0,-7 L 10.5,-7 M 14.1,-8.6 L 26.1,-8.6 M 14.1,-3.4 L 26.1,-3.4 M 37.2,0 L 37.2,-13.5 L 29.7,-4 L 39.7,-4 M 43.3,-6.75 A 4.75,6.75 0 1 0 52.8,-6.75 A 4.75,6.75 0 1 0 43.3,-6.75 M 65.1,-12 Q 64.2,-13.5 61.4,-13.5 Q 56.4,-13.5 56.4,-6 L 56.4,-4.5 A 4.75,4.5 0 1 0 65.9,-4.5 A 4.75,4.5 0 1 0 56.4,-4.5 M 77.45,-8.2 A 4.5,5 0 1 0 77.45,-1.8 M 81.1,-10 L 81.1,0 M 81.1,-6 A 3.5,4 0 0 1 88.1,-6 L 88.1,0 M 88.1,-6 A 3.5,4 0 0 1 95.1,-6 L 95.1,0"/>
<path vector-effect="non-scaling-stroke" transform="translate(1298 1506.5) scale(1.4280 1.1481)" d="M 0,-13.5 L 0,0 M 10.5,-13.5 L 10.5,0 M 0,-7 L 10.5,-7 M 14.1,-8.6 L 26.1,-8.6 M 14.1,-3.4 L 26.1,-3.4 M 30,-11 Q 30.9,-13.5 34.5,-13.5 Q 38.7,-13.5 38.7,-10.2 Q 38.7,-7.2 34.7,-7.2 Q 39.2,-7.2 39.2,-3.6 Q 39.2,0 34.5,0 Q 30.7,0 29.7,-2.5 M 43.1,-10.3 Q 43.6,-13.5 47.7,-13.5 Q 52.3,-13.5 52.3,-9.8 Q 52.3,-7.5 49.3,-5.3 L 42.8,0 L 52.8,0 M 56.4,-6.75 A 4.75,6.75 0 1 0 65.9,-6.75 A 4.75,6.75 0 1 0 56.4,-6.75 M 77.45,-8.2 A 4.5,5 0 1 0 77.45,-1.8 M 81.1,-10 L 81.1,0 M 81.1,-6 A 3.5,4 0 0 1 88.1,-6 L 88.1,0 M 88.1,-6 A 3.5,4 0 0 1 95.1,-6 L 95.1,0"/>
<path vector-effect="non-scaling-stroke" transform="translate(1513.8 1505.3) scale(1.4280 1.1407)" d="M 0,-13.5 L 0,0 M 10.5,-13.5 L 10.5,0 M 0,-7 L 10.5,-7 M 14.1,-8.6 L 26.1,-8.6 M 14.1,-3.4 L 26.1,-3.4 M 30,-11 Q 30.9,-13.5 34.5,-13.5 Q 38.7,-13.5 38.7,-10.2 Q 38.7,-7.2 34.7,-7.2 Q 39.2,-7.2 39.2,-3.6 Q 39.2,0 34.5,0 Q 30.7,0 29.7,-2.5 M 43.1,-11 Q 44,-13.5 47.6,-13.5 Q 51.8,-13.5 51.8,-10.2 Q 51.8,-7.2 47.8,-7.2 Q 52.3,-7.2 52.3,-3.6 Q 52.3,0 47.6,0 Q 43.8,0 42.8,-2.5 M 56.2,-10.3 Q 56.7,-13.5 60.8,-13.5 Q 65.4,-13.5 65.4,-9.8 Q 65.4,-7.5 62.4,-5.3 L 55.9,0 L 65.9,0 M 77.45,-8.2 A 4.5,5 0 1 0 77.45,-1.8 M 81.1,-10 L 81.1,0 M 81.1,-6 A 3.5,4 0 0 1 88.1,-6 L 88.1,0 M 88.1,-6 A 3.5,4 0 0 1 95.1,-6 L 95.1,0"/>
<path vector-effect="non-scaling-stroke" transform="translate(1684.5 1466) scale(1.3597 1.1300)" d="M 0,-5 A 4.75,5 0 1 0 9.5,-5 A 4.75,5 0 1 0 0,-5 M 9.5,-10 L 9.5,0 M 13.1,-10 L 13.1,0 M 13.1,-5.5 A 4.25,4.5 0 0 1 21.6,-5.5 L 21.6,0 M 25.2,-5 A 4.75,5 0 1 0 34.7,-5 A 4.75,5 0 1 0 25.2,-5 M 34.7,-10 L 34.7,1.5 Q 34.7,4.5 31.2,4.5 L 28.7,4.5 M 38.3,-5 A 4.75,5 0 1 0 47.8,-5 A 4.75,5 0 1 0 38.3,-5 M 51.4,-13.5 L 51.4,0 M 55,-5 A 4.75,5 0 1 0 64.5,-5 A 4.75,5 0 1 0 55,-5"/>
<path vector-effect="non-scaling-stroke" transform="translate(1682.2 1496.5) scale(1.3072 1.2600)" d="M 7.95,-8.2 A 4.5,5 0 1 0 7.95,-1.8 M 11.6,-5 A 4.75,5 0 1 0 21.1,-5 A 4.75,5 0 1 0 11.6,-5 M 26.2,-13 L 26.2,-2 Q 26.2,0 28.2,0 L 29.7,0 M 24.7,-10 L 29.2,-10 M 34.8,-13 L 34.8,-2 Q 34.8,0 36.8,0 L 38.3,0 M 33.3,-10 L 37.8,-10 M 41.9,-10 L 41.9,-4.5 A 4.25,4.5 0 0 0 50.4,-4.5 M 50.4,-10 L 50.4,0 M 54,-10 L 54,0 M 54,-5 Q 54.6,-10 59.5,-10 M 63.1,-5 A 4.75,5 0 1 0 72.6,-5 A 4.75,5 0 1 0 63.1,-5 M 72.6,-10 L 72.6,0"/>
<path vector-effect="non-scaling-stroke" transform="translate(1076.2 1378.3) scale(1.3936 1.3037)" d="M 0,-13.5 L 0,0 M 10.5,-13.5 L 10.5,0 M 0,-7 L 10.5,-7 M 22.05,-8.2 A 4.5,5 0 1 0 22.05,-1.8 M 25.7,-8.6 L 37.7,-8.6 M 25.7,-3.4 L 37.7,-3.4 M 41.6,-11 Q 42.5,-13.5 46.1,-13.5 Q 50.3,-13.5 50.3,-10.2 Q 50.3,-7.2 46.3,-7.2 Q 50.8,-7.2 50.8,-3.6 Q 50.8,0 46.1,0 Q 42.3,0 41.3,-2.5 M 59.15,-7.3 A 4,3.1 0 1 1 59.15,-13.5 A 4,3.1 0 1 1 59.15,-7.3 A 4.75,3.65 0 1 0 59.15,0 A 4.75,3.65 0 1 0 59.15,-7.3 M 76.5,-13.5 L 68.7,-13.5 L 68.1,-7.3 Q 69.5,-8.5 72.4,-8.5 Q 77,-8.5 77,-4.25 Q 77,0 72.4,0 Q 68.8,0 67.5,-2 M 88.55,-8.2 A 4.5,5 0 1 0 88.55,-1.8 M 92.2,-10 L 92.2,0 M 92.2,-6 A 3.5,4 0 0 1 99.2,-6 L 99.2,0 M 99.2,-6 A 3.5,4 0 0 1 106.2,-6 L 106.2,0"/>
<path vector-effect="non-scaling-stroke" transform="translate(1074.8 1513.2) scale(1.3799 1.3037)" d="M 0,-13.5 L 0,0 M 10.5,-13.5 L 10.5,0 M 0,-7 L 10.5,-7 M 14.1,-5 A 4.75,5 0 1 0 23.6,-5 A 4.75,5 0 1 0 14.1,-5 M 23.6,-10 L 23.6,1.5 Q 23.6,4.5 20.1,4.5 L 17.6,4.5 M 27.2,-8.6 L 39.2,-8.6 M 27.2,-3.4 L 39.2,-3.4 M 43.1,-11 Q 44,-13.5 47.6,-13.5 Q 51.8,-13.5 51.8,-10.2 Q 51.8,-7.2 47.8,-7.2 Q 52.3,-7.2 52.3,-3.6 Q 52.3,0 47.6,0 Q 43.8,0 42.8,-2.5 M 56.2,-10.3 Q 56.7,-13.5 60.8,-13.5 Q 65.4,-13.5 65.4,-9.8 Q 65.4,-7.5 62.4,-5.3 L 55.9,0 L 65.9,0 M 69.8,-11 Q 70.7,-13.5 74.3,-13.5 Q 78.5,-13.5 78.5,-10.2 Q 78.5,-7.2 74.5,-7.2 Q 79,-7.2 79,-3.6 Q 79,0 74.3,0 Q 70.5,0 69.5,-2.5 M 90.55,-8.2 A 4.5,5 0 1 0 90.55,-1.8 M 94.2,-10 L 94.2,0 M 94.2,-6 A 3.5,4 0 0 1 101.2,-6 L 101.2,0 M 101.2,-6 A 3.5,4 0 0 1 108.2,-6 L 108.2,0"/>
<path vector-effect="non-scaling-stroke" transform="translate(449.8 1252) scale(1.3087 1.4600)" d="M 0,-5 A 4.75,5 0 1 0 9.5,-5 A 4.75,5 0 1 0 0,-5 M 0,-13.5 L 0,0 M 13.1,-5 A 4.75,5 0 1 0 22.6,-5 A 4.75,5 0 1 0 13.1,-5 M 22.6,-10 L 22.6,0 M 26.2,-5 A 4.75,5 0 1 0 35.7,-5 A 4.75,5 0 1 0 26.2,-5 M 35.7,-10 L 35.7,1.5 Q 35.7,4.5 32.2,4.5 L 29.7,4.5 M 39.3,-10 L 39.3,0 M 39.3,-5.5 A 4.25,4.5 0 0 1 47.8,-5.5 L 47.8,0 M 51.4,-5 A 4.75,5 0 1 0 60.9,-5 A 4.75,5 0 1 0 51.4,-5"/>
<path vector-effect="non-scaling-stroke" transform="translate(421.8 1289) scale(1.4154 1.3630)" d="M 0,-13.5 L 0,0 M 10.5,-13.5 L 10.5,0 M 0,-7 L 10.5,-7 M 14.1,-8.6 L 26.1,-8.6 M 14.1,-3.4 L 26.1,-3.4 M 30,-10.3 Q 30.5,-13.5 34.6,-13.5 Q 39.2,-13.5 39.2,-9.8 Q 39.2,-7.5 36.2,-5.3 L 29.7,0 L 39.7,0 M 52.3,-13.5 L 44.5,-13.5 L 43.9,-7.3 Q 45.3,-8.5 48.2,-8.5 Q 52.8,-8.5 52.8,-4.25 Q 52.8,0 48.2,0 Q 44.6,0 43.3,-2 M 56.4,-6.75 A 4.75,6.75 0 1 0 65.9,-6.75 A 4.75,6.75 0 1 0 56.4,-6.75 M 77.45,-8.2 A 4.5,5 0 1 0 77.45,-1.8 M 81.1,-10 L 81.1,0 M 81.1,-6 A 3.5,4 0 0 1 88.1,-6 L 88.1,0 M 88.1,-6 A 3.5,4 0 0 1 95.1,-6 L 95.1,0"/>
<path vector-effect="non-scaling-stroke" transform="translate(586.4 1266) scale(1.4426 1.2667)" d="M 0,-5 A 4.75,5 0 1 0 9.5,-5 A 4.75,5 0 1 0 0,-5 M 9.5,-13.5 L 9.5,0 M 13.1,-10 L 13.1,0 M 13.1,-13.2 L 13.1,-12.8 M 24.7,-8.6 Q 23.9,-10 20.9,-10 Q 17,-10 17,-7.4 Q 17,-5.3 20.9,-5 Q 25,-4.7 25,-2.5 Q 25,0 20.9,0 Q 17.7,0 16.7,-1.6 M 29.1,-0.6 L 29.1,-0.1"/>
<path vector-effect="non-scaling-stroke" transform="translate(730.5 1240.6) scale(1.3947 1.2741)" d="M 0,-13.5 L 0,0 M 10.5,-13.5 L 10.5,0 M 0,-7 L 10.5,-7 M 14.1,-5 A 4.75,5 0 1 0 23.6,-5 A 4.75,5 0 1 0 14.1,-5 M 23.6,-10 L 23.6,1.5 Q 23.6,4.5 20.1,4.5 L 17.6,4.5 M 27.2,-8.6 L 39.2,-8.6 M 27.2,-3.4 L 39.2,-3.4 M 50.3,0 L 50.3,-13.5 L 42.8,-4 L 52.8,-4 M 56.7,-10.3 Q 57.2,-13.5 61.3,-13.5 Q 65.9,-13.5 65.9,-9.8 Q 65.9,-7.5 62.9,-5.3 L 56.4,0 L 66.4,0 M 74.75,-7.3 A 4,3.1 0 1 1 74.75,-13.5 A 4,3.1 0 1 1 74.75,-7.3 A 4.75,3.65 0 1 0 74.75,0 A 4.75,3.65 0 1 0 74.75,-7.3 M 91.05,-8.2 A 4.5,5 0 1 0 91.05,-1.8 M 94.7,-10 L 94.7,0 M 94.7,-6 A 3.5,4 0 0 1 101.7,-6 L 101.7,0 M 101.7,-6 A 3.5,4 0 0 1 108.7,-6 L 108.7,0"/>
<path vector-effect="non-scaling-stroke" transform="translate(703.7 1383.5) scale(1.4049 1.1852)" d="M 0,-13.5 L 0,0 M 10.5,-13.5 L 10.5,0 M 0,-7 L 10.5,-7 M 22.05,-8.2 A 4.5,5 0 1 0 22.05,-1.8 M 25.7,-8.6 L 37.7,-8.6 M 25.7,-3.4 L 37.7,-3.4 M 48.8,0 L 48.8,-13.5 L 41.3,-4 L 51.3,-4 M 59.65,-7.3 A 4,3.1 0 1 1 59.65,-13.5 A 4,3.1 0 1 1 59.65,-7.3 A 4.75,3.65 0 1 0 59.65,0 A 4.75,3.65 0 1 0 59.65,-7.3 M 76.7,-12 Q 75.8,-13.5 73,-13.5 Q 68,-13.5 68,-6 L 68,-4.5 A 4.75,4.5 0 1 0 77.5,-4.5 A 4.75,4.5 0 1 0 68,-4.5 M 89.05,-8.2 A 4.5,5 0 1 0 89.05,-1.8 M 92.7,-10 L 92.7,0 M 92.7,-6 A 3.5,4 0 0 1 99.7,-6 L 99.7,0 M 99.7,-6 A 3.5,4 0 0 1 106.7,-6 L 106.7,0"/>
<path vector-effect="non-scaling-stroke" transform="translate(665.4 1451) scale(1.3550 1.3300)" d="M 0,-5 A 4.75,5 0 1 0 9.5,-5 A 4.75,5 0 1 0 0,-5 M 9.5,-10 L 9.5,0 M 13.1,-10 L 13.1,0 M 13.1,-5.5 A 4.25,4.5 0 0 1 21.6,-5.5 L 21.6,0 M 25.2,-5 A 4.75,5 0 1 0 34.7,-5 A 4.75,5 0 1 0 25.2,-5 M 34.7,-10 L 34.7,1.5 Q 34.7,4.5 31.2,4.5 L 28.7,4.5 M 38.3,-5 A 4.75,5 0 1 0 47.8,-5 A 4.75,5 0 1 0 38.3,-5 M 51.4,-13.5 L 51.4,0 M 55,-5 A 4.75,5 0 1 0 64.5,-5 A 4.75,5 0 1 0 55,-5"/>
<path vector-effect="non-scaling-stroke" transform="translate(661.6 1480.5) scale(1.3099 1.4700)" d="M 7.95,-8.2 A 4.5,5 0 1 0 7.95,-1.8 M 11.6,-5 A 4.75,5 0 1 0 21.1,-5 A 4.75,5 0 1 0 11.6,-5 M 26.2,-13 L 26.2,-2 Q 26.2,0 28.2,0 L 29.7,0 M 24.7,-10 L 29.2,-10 M 34.8,-13 L 34.8,-2 Q 34.8,0 36.8,0 L 38.3,0 M 33.3,-10 L 37.8,-10 M 41.9,-10 L 41.9,-4.5 A 4.25,4.5 0 0 0 50.4,-4.5 M 50.4,-10 L 50.4,0 M 54,-10 L 54,0 M 54,-5 Q 54.6,-10 59.5,-10 M 63.1,-5 A 4.75,5 0 1 0 72.6,-5 A 4.75,5 0 1 0 63.1,-5 M 72.6,-10 L 72.6,0"/>
<path vector-effect="non-scaling-stroke" transform="translate(456.2 1517.5) scale(1.3781 1.2741)" d="M 0,-13.5 L 0,0 M 10.5,-13.5 L 10.5,0 M 0,-7 L 10.5,-7 M 14.1,-5 A 4.75,5 0 1 0 23.6,-5 A 4.75,5 0 1 0 14.1,-5 M 23.6,-10 L 23.6,1.5 Q 23.6,4.5 20.1,4.5 L 17.6,4.5 M 27.2,-8.6 L 39.2,-8.6 M 27.2,-3.4 L 39.2,-3.4 M 50.3,0 L 50.3,-13.5 L 42.8,-4 L 52.8,-4 M 56.7,-10.3 Q 57.2,-13.5 61.3,-13.5 Q 65.9,-13.5 65.9,-9.8 Q 65.9,-7.5 62.9,-5.3 L 56.4,0 L 66.4,0 M 74.75,-7.3 A 4,3.1 0 1 1 74.75,-13.5 A 4,3.1 0 1 1 74.75,-7.3 A 4.75,3.65 0 1 0 74.75,0 A 4.75,3.65 0 1 0 74.75,-7.3 M 91.05,-8.2 A 4.5,5 0 1 0 91.05,-1.8 M 94.7,-10 L 94.7,0 M 94.7,-6 A 3.5,4 0 0 1 101.7,-6 L 101.7,0 M 101.7,-6 A 3.5,4 0 0 1 108.7,-6 L 108.7,0"/>
<path vector-effect="non-scaling-stroke" transform="translate(745.8 1515) scale(1.3965 1.2815)" d="M 0,-13.5 L 0,0 M 10.5,-13.5 L 10.5,0 M 0,-7 L 10.5,-7 M 14.1,-5 A 4.75,5 0 1 0 23.6,-5 A 4.75,5 0 1 0 14.1,-5 M 23.6,-10 L 23.6,1.5 Q 23.6,4.5 20.1,4.5 L 17.6,4.5 M 27.2,-8.6 L 39.2,-8.6 M 27.2,-3.4 L 39.2,-3.4 M 50.3,0 L 50.3,-13.5 L 42.8,-4 L 52.8,-4 M 56.7,-10.3 Q 57.2,-13.5 61.3,-13.5 Q 65.9,-13.5 65.9,-9.8 Q 65.9,-7.5 62.9,-5.3 L 56.4,0 L 66.4,0 M 74.75,-7.3 A 4,3.1 0 1 1 74.75,-13.5 A 4,3.1 0 1 1 74.75,-7.3 A 4.75,3.65 0 1 0 74.75,0 A 4.75,3.65 0 1 0 74.75,-7.3 M 91.05,-8.2 A 4.5,5 0 1 0 91.05,-1.8 M 94.7,-10 L 94.7,0 M 94.7,-6 A 3.5,4 0 0 1 101.7,-6 L 101.7,0 M 101.7,-6 A 3.5,4 0 0 1 108.7,-6 L 108.7,0"/>
<path vector-effect="non-scaling-stroke" transform="translate(1286 338.1) rotate(-90) scale(1.4101 1.2667)" d="M 0,-13.5 L 0,0 M 10.5,-13.5 L 10.5,0 M 0,-7 L 10.5,-7 M 14.1,-8.6 L 26.1,-8.6 M 14.1,-3.4 L 26.1,-3.4 M 30,-11 Q 30.9,-13.5 34.5,-13.5 Q 38.7,-13.5 38.7,-10.2 Q 38.7,-7.2 34.7,-7.2 Q 39.2,-7.2 39.2,-3.6 Q 39.2,0 34.5,0 Q 30.7,0 29.7,-2.5 M 50.3,0 L 50.3,-13.5 L 42.8,-4 L 52.8,-4 M 61.15,-7.3 A 4,3.1 0 1 1 61.15,-13.5 A 4,3.1 0 1 1 61.15,-7.3 A 4.75,3.65 0 1 0 61.15,0 A 4.75,3.65 0 1 0 61.15,-7.3 M 77.45,-8.2 A 4.5,5 0 1 0 77.45,-1.8 M 81.1,-10 L 81.1,0 M 81.1,-6 A 3.5,4 0 0 1 88.1,-6 L 88.1,0 M 88.1,-6 A 3.5,4 0 0 1 95.1,-6 L 95.1,0"/>
<path vector-effect="non-scaling-stroke" transform="translate(1283.6 604) rotate(-90) scale(1.4355 1.3481)" d="M 0,-13.5 L 0,0 M 10.5,-13.5 L 10.5,0 M 0,-7 L 10.5,-7 M 14.1,-8.6 L 26.1,-8.6 M 14.1,-3.4 L 26.1,-3.4 M 30,-11 Q 30.9,-13.5 34.5,-13.5 Q 38.7,-13.5 38.7,-10.2 Q 38.7,-7.2 34.7,-7.2 Q 39.2,-7.2 39.2,-3.6 Q 39.2,0 34.5,0 Q 30.7,0 29.7,-2.5 M 43.1,-11 Q 44,-13.5 47.6,-13.5 Q 51.8,-13.5 51.8,-10.2 Q 51.8,-7.2 47.8,-7.2 Q 52.3,-7.2 52.3,-3.6 Q 52.3,0 47.6,0 Q 43.8,0 42.8,-2.5 M 55.9,-6.75 A 4.75,6.75 0 1 0 65.4,-6.75 A 4.75,6.75 0 1 0 55.9,-6.75 M 76.95,-8.2 A 4.5,5 0 1 0 76.95,-1.8 M 80.6,-10 L 80.6,0 M 80.6,-6 A 3.5,4 0 0 1 87.6,-6 L 87.6,0 M 87.6,-6 A 3.5,4 0 0 1 94.6,-6 L 94.6,0"/>
<path vector-effect="non-scaling-stroke" transform="translate(1913 533) rotate(-90) scale(1.4281 1.3778)" d="M 0,-13.5 L 0,0 M 10.5,-13.5 L 10.5,0 M 0,-7 L 10.5,-7 M 14.1,-8.6 L 26.1,-8.6 M 14.1,-3.4 L 26.1,-3.4 M 30,-11 Q 30.9,-13.5 34.5,-13.5 Q 38.7,-13.5 38.7,-10.2 Q 38.7,-7.2 34.7,-7.2 Q 39.2,-7.2 39.2,-3.6 Q 39.2,0 34.5,0 Q 30.7,0 29.7,-2.5 M 43.1,-11 Q 44,-13.5 47.6,-13.5 Q 51.8,-13.5 51.8,-10.2 Q 51.8,-7.2 47.8,-7.2 Q 52.3,-7.2 52.3,-3.6 Q 52.3,0 47.6,0 Q 43.8,0 42.8,-2.5 M 55.9,-6.75 A 4.75,6.75 0 1 0 65.4,-6.75 A 4.75,6.75 0 1 0 55.9,-6.75 M 76.95,-8.2 A 4.5,5 0 1 0 76.95,-1.8 M 80.6,-10 L 80.6,0 M 80.6,-6 A 3.5,4 0 0 1 87.6,-6 L 87.6,0 M 87.6,-6 A 3.5,4 0 0 1 94.6,-6 L 94.6,0"/>
<path vector-effect="non-scaling-stroke" transform="translate(1725.5 633.6) rotate(-90) scale(1.4718 1.2667)" d="M 0,-13.5 L 0,0 M 10.5,-13.5 L 10.5,0 M 0,-7 L 10.5,-7 M 14.1,-8.6 L 26.1,-8.6 M 14.1,-3.4 L 26.1,-3.4 M 37.2,0 L 37.2,-13.5 L 29.7,-4 L 39.7,-4 M 50.8,0 L 50.8,-13.5 L 43.3,-4 L 53.3,-4 M 65.9,-13.5 L 58.1,-13.5 L 57.5,-7.3 Q 58.9,-8.5 61.8,-8.5 Q 66.4,-8.5 66.4,-4.25 Q 66.4,0 61.8,0 Q 58.2,0 56.9,-2 M 77.95,-8.2 A 4.5,5 0 1 0 77.95,-1.8 M 81.6,-10 L 81.6,0 M 81.6,-6 A 3.5,4 0 0 1 88.6,-6 L 88.6,0 M 88.6,-6 A 3.5,4 0 0 1 95.6,-6 L 95.6,0"/>
<path vector-effect="non-scaling-stroke" transform="translate(1585.3 894) rotate(-90) scale(1.4248 1.3630)" d="M 0,-13.5 L 0,0 M 10.5,-13.5 L 10.5,0 M 0,-7 L 10.5,-7 M 14.1,-8.6 L 26.1,-8.6 M 14.1,-3.4 L 26.1,-3.4 M 37.2,0 L 37.2,-13.5 L 29.7,-4 L 39.7,-4 M 52.8,-9 A 4.75,4.5 0 1 0 43.3,-9 A 4.75,4.5 0 1 0 52.8,-9 L 52.8,-5 Q 52.8,0 48.05,0 Q 44.8,0 43.8,-1.8 M 56.4,-6.75 A 4.75,6.75 0 1 0 65.9,-6.75 A 4.75,6.75 0 1 0 56.4,-6.75 M 77.45,-8.2 A 4.5,5 0 1 0 77.45,-1.8 M 81.1,-10 L 81.1,0 M 81.1,-6 A 3.5,4 0 0 1 88.1,-6 L 88.1,0 M 88.1,-6 A 3.5,4 0 0 1 95.1,-6 L 95.1,0"/>
<path vector-effect="non-scaling-stroke" transform="translate(1920 878.8) rotate(-90) scale(1.4175 1.4148)" d="M 0,-13.5 L 0,0 M 10.5,-13.5 L 10.5,0 M 0,-7 L 10.5,-7 M 14.1,-8.6 L 26.1,-8.6 M 14.1,-3.4 L 26.1,-3.4 M 30,-11 Q 30.9,-13.5 34.5,-13.5 Q 38.7,-13.5 38.7,-10.2 Q 38.7,-7.2 34.7,-7.2 Q 39.2,-7.2 39.2,-3.6 Q 39.2,0 34.5,0 Q 30.7,0 29.7,-2.5 M 43.1,-11 Q 44,-13.5 47.6,-13.5 Q 51.8,-13.5 51.8,-10.2 Q 51.8,-7.2 47.8,-7.2 Q 52.3,-7.2 52.3,-3.6 Q 52.3,0 47.6,0 Q 43.8,0 42.8,-2.5 M 56.2,-10.3 Q 56.7,-13.5 60.8,-13.5 Q 65.4,-13.5 65.4,-9.8 Q 65.4,-7.5 62.4,-5.3 L 55.9,0 L 65.9,0 M 77.45,-8.2 A 4.5,5 0 1 0 77.45,-1.8 M 81.1,-10 L 81.1,0 M 81.1,-6 A 3.5,4 0 0 1 88.1,-6 L 88.1,0 M 88.1,-6 A 3.5,4 0 0 1 95.1,-6 L 95.1,0"/>
<path vector-effect="non-scaling-stroke" transform="translate(1280.8 891) rotate(-90) scale(1.4323 1.4667)" d="M 0,-13.5 L 0,0 M 10.5,-13.5 L 10.5,0 M 0,-7 L 10.5,-7 M 14.1,-8.6 L 26.1,-8.6 M 14.1,-3.4 L 26.1,-3.4 M 30,-11 Q 30.9,-13.5 34.5,-13.5 Q 38.7,-13.5 38.7,-10.2 Q 38.7,-7.2 34.7,-7.2 Q 39.2,-7.2 39.2,-3.6 Q 39.2,0 34.5,0 Q 30.7,0 29.7,-2.5 M 43.1,-11 Q 44,-13.5 47.6,-13.5 Q 51.8,-13.5 51.8,-10.2 Q 51.8,-7.2 47.8,-7.2 Q 52.3,-7.2 52.3,-3.6 Q 52.3,0 47.6,0 Q 43.8,0 42.8,-2.5 M 55.9,-6.75 A 4.75,6.75 0 1 0 65.4,-6.75 A 4.75,6.75 0 1 0 55.9,-6.75 M 76.95,-8.2 A 4.5,5 0 1 0 76.95,-1.8 M 80.6,-10 L 80.6,0 M 80.6,-6 A 3.5,4 0 0 1 87.6,-6 L 87.6,0 M 87.6,-6 A 3.5,4 0 0 1 94.6,-6 L 94.6,0"/>
<path vector-effect="non-scaling-stroke" transform="translate(1918.8 1477) rotate(-90) scale(1.4206 1.3852)" d="M 0,-13.5 L 0,0 M 10.5,-13.5 L 10.5,0 M 0,-7 L 10.5,-7 M 14.1,-8.6 L 26.1,-8.6 M 14.1,-3.4 L 26.1,-3.4 M 30,-11 Q 30.9,-13.5 34.5,-13.5 Q 38.7,-13.5 38.7,-10.2 Q 38.7,-7.2 34.7,-7.2 Q 39.2,-7.2 39.2,-3.6 Q 39.2,0 34.5,0 Q 30.7,0 29.7,-2.5 M 43.1,-11 Q 44,-13.5 47.6,-13.5 Q 51.8,-13.5 51.8,-10.2 Q 51.8,-7.2 47.8,-7.2 Q 52.3,-7.2 52.3,-3.6 Q 52.3,0 47.6,0 Q 43.8,0 42.8,-2.5 M 56.2,-10.3 Q 56.7,-13.5 60.8,-13.5 Q 65.4,-13.5 65.4,-9.8 Q 65.4,-7.5 62.4,-5.3 L 55.9,0 L 65.9,0 M 77.45,-8.2 A 4.5,5 0 1 0 77.45,-1.8 M 81.1,-10 L 81.1,0 M 81.1,-6 A 3.5,4 0 0 1 88.1,-6 L 88.1,0 M 88.1,-6 A 3.5,4 0 0 1 95.1,-6 L 95.1,0"/>
</g>
<g font-family="Liberation Sans, sans-serif" fill="#000" stroke="#000" stroke-width="1.3" stroke-linejoin="miter">
<text x="251" y="171.2" font-size="39.6" textLength="112.5" lengthAdjust="spacing">VILLA</text>
<text x="251" y="221.2" font-size="39.6" textLength="330" lengthAdjust="spacing">PIANO TERRENO</text>
</g>
</svg></body></html>
